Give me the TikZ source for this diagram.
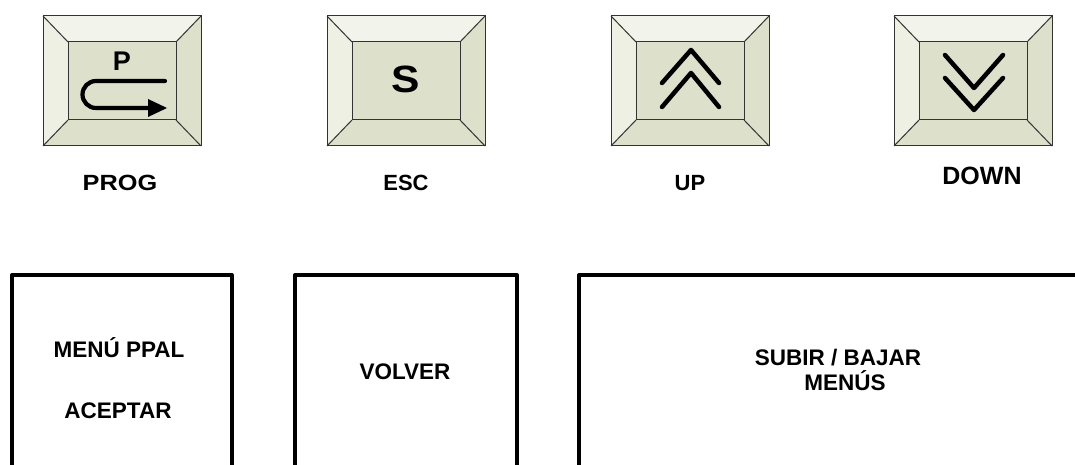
\documentclass[tikz,border=0pt]{standalone}
\usepackage{fontspec}
\setmainfont{Liberation Sans}
\definecolor{ktop}{HTML}{F2F3EA}
\definecolor{kleft}{HTML}{EEF0E4}
\definecolor{kface}{HTML}{DDE0CB}
\definecolor{kline}{HTML}{333333}
\tikzset{
  keyline/.style={draw=kline, line width=1pt},
  keyface/.style={draw=kline, line width=1pt, fill=kface, minimum width=108pt, minimum height=78pt, inner sep=0pt},
  keylabel/.style={font=\fontsize{22}{24}\selectfont\bfseries, inner sep=0pt, anchor=base},
  boxtext/.style={font=\fontsize{22.5}{20}\selectfont\bfseries, inner sep=0pt, align=center, anchor=base},
  symline/.style={line width=4.5pt, line cap=round, line join=round},
  frameline/.style={line width=3.3pt, line join=round}
}
\newcommand\drawkey[2]{%
  \begin{scope}[shift={(#1,0)}]
    \fill[ktop] (0,16) -- (158,16) -- (133,42) -- (25,42) -- cycle;
    \fill[kleft] (0,16) -- (25,42) -- (25,120) -- (0,146) -- cycle;
    \fill[kface] (158,16) -- (158,146) -- (133,120) -- (133,42) -- cycle;
    \fill[kface] (0,146) -- (25,120) -- (133,120) -- (158,146) -- cycle;
    \draw[keyline] (0,16) rectangle (158,146);
    \draw[keyline] (0,16) -- (25,42) (158,16) -- (133,42) (0,146) -- (25,120) (158,146) -- (133,120);
    \node[keyface] (#2) at (79,81) {};
  \end{scope}}
\begin{document}
\begin{tikzpicture}[x=1pt,y=-1pt]
\useasboundingbox (0,0) rectangle (1075,465);
\fill[white] (0,0) rectangle (1075,465);
% keys
\drawkey{43}{kprog}
\drawkey{327}{kesc}
\drawkey{611}{kup}
\drawkey{894}{kdown}
% PROG symbol
\node[font=\fontsize{27}{27}\selectfont\bfseries, inner sep=0pt] (psym) at (122,61) {P};
\draw[line width=4.2pt, line cap=round] (165,81) -- (96,81) arc(270:90:13.5) -- (152,108);
\fill (148,99) -- (167,108) -- (148,117) -- cycle;
% ESC symbol
\node[font=\fontsize{38}{38}\selectfont\bfseries, inner sep=0pt] (ssym) at (406,79) {\scalebox{1.12}[1]{S}};
% UP chevrons
\draw[symline] (662,83) -- (691,50) -- (719,83);
\draw[symline] (662,107) -- (691,73) -- (719,107);
% DOWN chevrons
\draw[symline] (945,55) -- (974,88) -- (1003,55);
\draw[symline] (945,78) -- (974,110) -- (1003,78);
% key labels
\node[keylabel] (lprog) at (120,190) {\scalebox{1.15}[1]{PROG}};
\node[keylabel] (lesc) at (406,190) {ESC};
\node[keylabel] (lup) at (690,190) {UP};
\node[keylabel, font=\fontsize{25}{25}\selectfont\bfseries] (ldown) at (982,185) {DOWN};
% bottom frames
\draw[frameline] (12,465) -- (12,275) -- (232,275) -- (232,465);
\draw[frameline] (295,465) -- (295,275) -- (517,275) -- (517,465);
\draw[frameline] (579,465) -- (579,275) -- (1075,275);
% bottom texts
\node[boxtext] (tmenu) at (119,357) {MENÚ PPAL};
\node[boxtext] (tacep) at (118,418) {ACEPTAR};
\node[boxtext] (tvol) at (405,379) {VOLVER};
\node[boxtext] (tsub) at (838,365) {SUBIR / BAJAR};
\node[boxtext] (tmen) at (845,390) {MENÚS};
\end{tikzpicture}
\end{document}
